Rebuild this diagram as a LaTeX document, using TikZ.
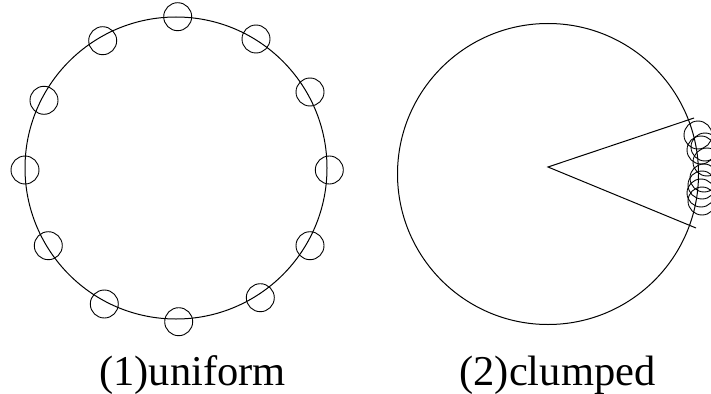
\documentclass[tikz,border=0pt]{standalone}
\usepackage{fontspec}
\setmainfont{Liberation Serif}
\begin{document}
\begin{tikzpicture}[x=1pt,y=-1pt,
  ring/.style={line width=1pt},
  bead/.style={line width=0.9pt},
  caption/.style={anchor=base,inner sep=0pt,font=\fontsize{42.5}{50}\selectfont}]
\useasboundingbox (0,0) rectangle (711,393);

% (1) evenly spread points on a circle
\draw[ring] (176,168) circle[radius=151pt];
\foreach \p in {(177.7,16.7),(102.7,40.7),(256,39),(44,100.3),(310,92),(25,170),
                (329.3,170),(48.3,245.7),(310,245.7),(104.3,304),(260.3,297.7),(178.7,321.7)}
  \draw[bead] \p circle[radius=14pt];

% (2) points bunched inside a narrow sector
\draw[ring] (548,174) circle[radius=150.5pt];
\coordinate (apex) at (548,167);
\coordinate (armA) at (694,118);
\coordinate (armB) at (696,228);
\draw[ring] (armA) -- (apex) -- (armB);
\foreach \p in {(698,135),(701,150),(705,147),(707,162),(704,178),(702,185),(701,193),(702,201)}
  \draw[bead] \p circle[radius=14pt];

\node[caption] (lab1) at (192.5,385) {(1)uniform};
\node[caption] (lab2) at (557.5,385) {(2)clumped};
\end{tikzpicture}
\end{document}
